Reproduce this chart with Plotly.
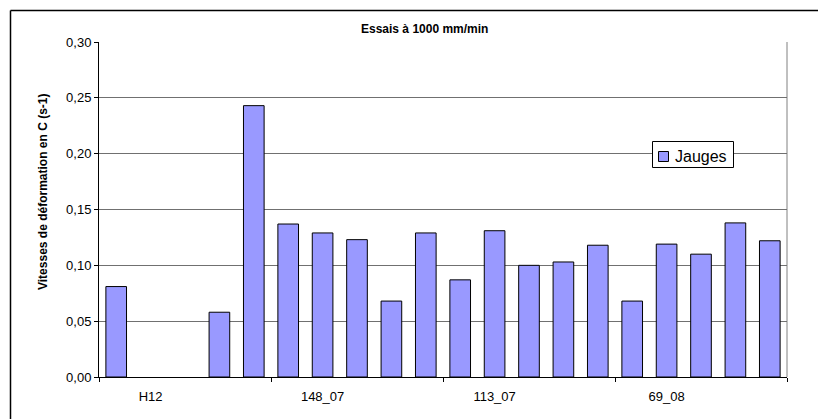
import plotly.graph_objects as go

# ---- data ----
positions = list(range(20))
values = [0.081, None, None, 0.058, 0.243, 0.137, 0.129, 0.123, 0.068, 0.129,
          0.087, 0.131, 0.100, 0.103, 0.118, 0.068, 0.119, 0.110, 0.138, 0.122]
label_positions = [1, 6, 11, 16]
label_texts = ["H12", "148_07", "113_07", "69_08"]
group_ticks = [-0.5, 4.5, 9.5, 14.5, 19.5]
y_ticks = [0, 0.05, 0.10, 0.15, 0.20, 0.25, 0.30]
series_name = "Jauges"
title_text = "Essais à 1000 mm/min"
y_title = "Vitesses de déformation en C (s-1)"

BAR_COLOR = "#9999FF"
W, H = 818, 419
L, R, T, B = 99, 31, 42, 42
PW, PH = W - L - R, H - T - B

def px_x(p):
    return (p - L) / PW

def px_y(p):
    return (H - B - p) / PH

FONT = "Liberation Sans, Arial, sans-serif"

fig = go.Figure()
fig.add_trace(go.Bar(
    x=positions, y=values, name=series_name, width=0.6,
    marker=dict(color=BAR_COLOR, line=dict(color="#000000", width=1)),
    xaxis="x", yaxis="y", showlegend=False,
))
# invisible trace to attach the label axis
fig.add_trace(go.Scatter(x=[None], y=[None], xaxis="x2", yaxis="y",
                         showlegend=False, hoverinfo="skip"))

fig.update_layout(
    width=W, height=H,
    margin=dict(l=L, r=R, t=T, b=B, pad=0),
    paper_bgcolor="white", plot_bgcolor="white",
    separators=", ",
    font=dict(family=FONT, color="black", size=13),
    showlegend=False,
    xaxis=dict(range=[-0.5, 19.5], tickmode="array", tickvals=group_ticks,
               ticktext=[""] * len(group_ticks), ticks="outside", ticklen=4,
               tickcolor="black", showgrid=False, zeroline=False,
               showline=True, linecolor="black", linewidth=1, fixedrange=True),
    xaxis2=dict(range=[-0.5, 19.5], overlaying="x", anchor="y", side="bottom",
                tickmode="array", tickvals=label_positions, ticktext=label_texts,
                ticks="outside", ticklen=7, tickcolor="rgba(0,0,0,0)",
                showgrid=False, zeroline=False, showline=False,
                tickfont=dict(size=13, family=FONT)),
    yaxis=dict(range=[0, 0.30], tickmode="array", tickvals=y_ticks,
               tickformat=".2f", ticks="outside", ticklen=4, tickcolor="black",
               showgrid=True, gridcolor="#707070", gridwidth=1, zeroline=False,
               showline=True, linecolor="black", linewidth=1,
               tickfont=dict(size=13, family=FONT)),
    bargap=0.4,
)

shapes = [
    # plot-area right border
    dict(type="line", xref="paper", yref="paper", x0=1, x1=1, y0=0, y1=1,
         line=dict(color="#808080", width=1), layer="below"),
    # outer chart border (left and top only, picture cropped)
    dict(type="line", xref="paper", yref="paper", x0=px_x(10.5), x1=px_x(10.5),
         y0=px_y(10.5), y1=px_y(H + 5), line=dict(color="black", width=1.5)),
    dict(type="line", xref="paper", yref="paper", x0=px_x(10.5), x1=px_x(W + 5),
         y0=px_y(10.5), y1=px_y(10.5), line=dict(color="black", width=1.5)),
    # legend box
    dict(type="rect", xref="paper", yref="paper", x0=px_x(652.5), x1=px_x(733.5),
         y0=px_y(167.5), y1=px_y(141.5), fillcolor="white",
         line=dict(color="#000000", width=1), layer="above"),
    # legend swatch
    dict(type="rect", xref="paper", yref="paper", x0=px_x(658.5), x1=px_x(668.5),
         y0=px_y(161.5), y1=px_y(151.5), fillcolor=BAR_COLOR,
         line=dict(color="#000000", width=1), layer="above"),
]
fig.update_layout(shapes=shapes)

fig.add_annotation(text=series_name, xref="paper", yref="paper",
                   x=px_x(673), y=px_y(156.5), showarrow=False,
                   font=dict(size=16, family=FONT), xanchor="left", yanchor="middle")
fig.add_annotation(text="<b>" + title_text + "</b>", xref="paper", yref="paper",
                   x=px_x(424), y=px_y(29), showarrow=False,
                   font=dict(size=12, family=FONT), xanchor="center", yanchor="middle")
fig.add_annotation(text="<b>" + y_title + "</b>", xref="paper", yref="paper",
                   x=px_x(43), y=px_y(191), showarrow=False, textangle=-90,
                   font=dict(size=12, family=FONT), xanchor="center", yanchor="middle")

fig.write_html("out.html", config={"displayModeBar": False},
               post_script="document.body.style.margin='0';document.body.style.overflow='hidden';")
